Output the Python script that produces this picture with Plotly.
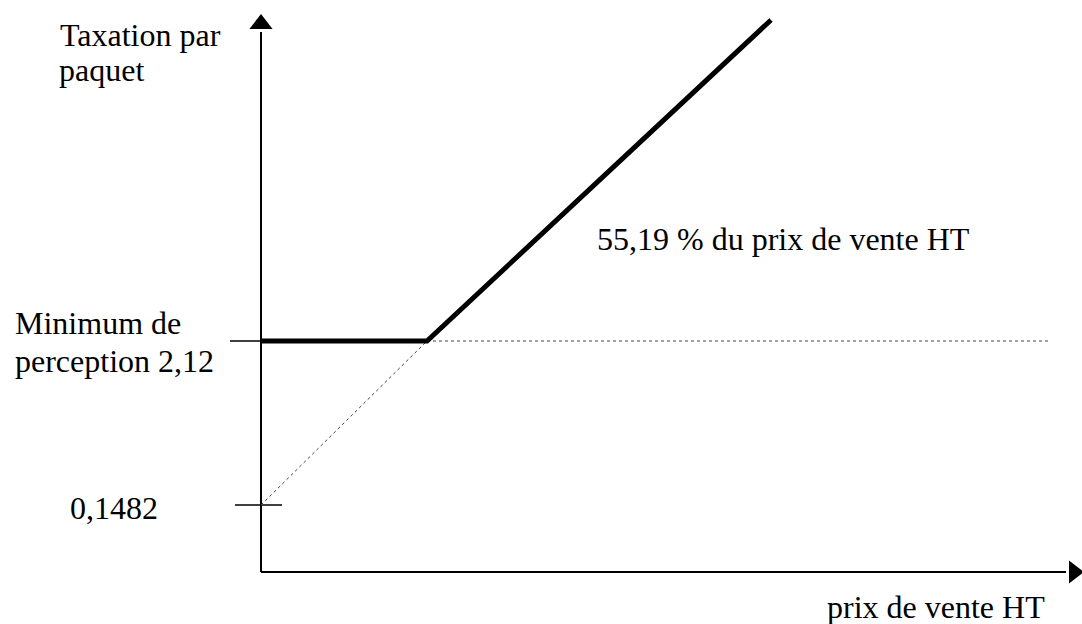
import plotly.graph_objects as go

# schematic diagram, not to scale: positions are the drawn ones (1 unit = 100 px)
price_kink = 1.66      # price where 55,19 % reaches the minimum
price_top = 5.10       # end of the proportional segment
price_right = 7.88     # end of the dotted minimum line
tax_min = 2.31         # drawn height of "Minimum de perception 2,12"
tax_floor = 0.67       # drawn height of "0,1482"
tax_top = 5.52

x_axis_end = 8.05
y_axis_end = 5.40

thick_x = [0, price_kink, price_top]
thick_y = [tax_min, tax_min, tax_top]
dot_diag_x = [0, price_kink]
dot_diag_y = [tax_floor, tax_min]
dot_min_x = [price_kink, price_right]
dot_min_y = [tax_min, tax_min]

FONT = dict(family="Liberation Serif, Times New Roman, serif", size=32, color="black")

fig = go.Figure()

# axes with arrow heads
fig.add_trace(go.Scatter(x=[0, 0], y=[0, y_axis_end], mode="lines",
                         line=dict(color="black", width=2)))
fig.add_trace(go.Scatter(x=[0, x_axis_end], y=[0, 0], mode="lines",
                         line=dict(color="black", width=2)))
fig.add_trace(go.Scatter(x=[0], y=[y_axis_end + 0.08], mode="markers", cliponaxis=False,
                         marker=dict(symbol="triangle-up", size=20, color="black")))
fig.add_trace(go.Scatter(x=[x_axis_end + 0.08], y=[0], mode="markers", cliponaxis=False,
                         marker=dict(symbol="triangle-right", size=20, color="black")))

# ticks
fig.add_trace(go.Scatter(x=[-0.31, 0], y=[tax_min, tax_min], mode="lines",
                         line=dict(color="black", width=1.5)))
fig.add_trace(go.Scatter(x=[-0.26, 0.21], y=[tax_floor, tax_floor], mode="lines",
                         line=dict(color="black", width=1.5)))

# dotted guides
fig.add_trace(go.Scatter(x=dot_diag_x, y=dot_diag_y, mode="lines",
                         line=dict(color="#444444", width=1, dash="dot")))
fig.add_trace(go.Scatter(x=dot_min_x, y=dot_min_y, mode="lines",
                         line=dict(color="#444444", width=1, dash="dot")))

# tax curve
fig.add_trace(go.Scatter(x=thick_x, y=thick_y, mode="lines",
                         line=dict(color="black", width=5)))

labels = [
    ("Taxation par", -2.03, 5.37),
    ("paquet", -2.04, 5.02),
    ("Minimum de", -2.48, 2.49),
    ("perception 2,12", -2.48, 2.11),
    ("0,1482", -1.93, 0.64),
    ("55,19 % du prix de vente HT", 3.34, 3.33),
    ("prix de vente HT", 5.64, -0.35),
]
for txt, x, y in labels:
    fig.add_annotation(x=x, y=y, text=txt, showarrow=False,
                       xanchor="left", yanchor="middle", font=FONT)

fig.update_layout(
    width=1082, height=624,
    margin=dict(l=0, r=0, t=0, b=0),
    showlegend=False,
    plot_bgcolor="white", paper_bgcolor="white",
    xaxis=dict(visible=False, range=[-2.61, 8.21], fixedrange=True),
    yaxis=dict(visible=False, range=[-0.52, 5.72], fixedrange=True),
)

# drop the default page margin so the figure fills the window
fig.write_html("out.html", config={"displayModeBar": False},
               post_script="document.body.style.margin='0';")
